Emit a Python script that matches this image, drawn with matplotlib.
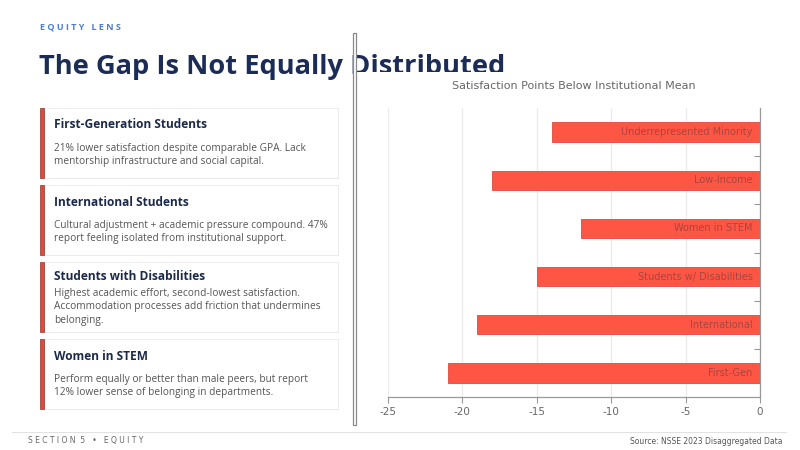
import matplotlib.pyplot as plt
from matplotlib.patches import Rectangle

# Chart data
groups = ["Underrepresented Minority", "Low-Income", "Women in STEM",
          "Students w/ Disabilities", "International", "First-Gen"]
gap_points = [-14, -18, -12, -15, -19, -21]
x_ticks = [-25, -20, -15, -10, -5, 0]

# Card text
card_titles = ["First-Generation Students", "International Students",
               "Students with Disabilities", "Women in STEM"]
card_bodies = [
    "21% lower satisfaction despite comparable GPA. Lack\nmentorship infrastructure and social capital.",
    "Cultural adjustment + academic pressure compound. 47%\nreport feeling isolated from institutional support.",
    "Highest academic effort, second-lowest satisfaction.\nAccommodation processes add friction that undermines\nbelonging.",
    "Perform equally or better than male peers, but report\n12% lower sense of belonging in departments.",
]

W, H = 800, 450
fig = plt.figure(figsize=(8, 4.5), dpi=100)
fig.patch.set_facecolor("white")


def fx(px):
    return px / W


def fy(py):
    return 1 - py / H


navy = "#1b2d57"
red = "#ff5544"

# Header
fig.text(fx(40), fy(27), "E Q U I T Y   L E N S", color="#4a7fd0", fontsize=6.5,
         fontweight="bold", family="Open Sans", va="center")
fig.text(fx(39), fy(67), "The Gap Is Not Equally Distributed", color=navy, fontsize=19.6,
         fontweight="bold", family="Open Sans", va="center", zorder=1)

# white panel clipping the title on the right
fig.patches.append(Rectangle((fx(357), fy(428)), fx(443), (428 - 72) / H,
                             transform=fig.transFigure, facecolor="white",
                             edgecolor="none", zorder=5))

# separator
fig.patches.append(Rectangle((fx(353), fy(425)), fx(3), (425 - 33) / H,
                             transform=fig.transFigure, facecolor="white",
                             edgecolor="#8a8a8a", lw=0.9, zorder=6))

# Cards
card_tops = [108, 185, 262, 339]
card_h = 70
for top, title, body in zip(card_tops, card_titles, card_bodies):
    fig.patches.append(Rectangle((fx(44), fy(top + card_h + 1)), fx(295), card_h / H,
                                 transform=fig.transFigure, facecolor="#e6e6ec",
                                 edgecolor="none", zorder=1))
    fig.patches.append(Rectangle((fx(44), fy(top + card_h)), fx(294), card_h / H,
                                 transform=fig.transFigure, facecolor="white",
                                 edgecolor="#eaeaef", lw=0.6, zorder=2))
    fig.patches.append(Rectangle((fx(40), fy(top + card_h)), fx(4), card_h / H,
                                 transform=fig.transFigure, facecolor="#e2493a",
                                 edgecolor="#8c3a30", lw=0.5, zorder=3))
    nlines = body.count("\n") + 1
    if nlines == 3:
        ty, by = top + 15, top + 26
    else:
        ty, by = top + 17, top + 35
    fig.text(fx(54), fy(ty), title, color="#1c2a4a", fontsize=8.6, fontweight="bold",
             family="Open Sans", va="center", zorder=4)
    fig.text(fx(54), fy(by), body, color="#555555", fontsize=7.25, family="Open Sans",
             va="top", linespacing=1.3, zorder=4)

# Footer
fig.add_artist(plt.Line2D([fx(12), fx(786)], [fy(432), fy(432)], color="#e2e2e2", lw=0.8))
fig.text(fx(28), fy(441), "S E C T I O N  5   \u2022   E Q U I T Y", color="#666666",
         fontsize=5.5, va="center")
fig.text(fx(783), fy(441), "Source: NSSE 2023 Disaggregated Data", color="#555555",
         fontsize=5.5, va="center", ha="right")

# Bar chart
ax = fig.add_axes([fx(388), fy(397), fx(760 - 388), (397 - 108) / H], zorder=7)
ax.set_facecolor("none")
pos = range(len(groups))
ax.barh(pos, gap_points, height=0.4, color=red, edgecolor="#e04a3c", lw=0.6, zorder=3)
for i, (g, v) in enumerate(zip(groups, gap_points)):
    ax.text(-0.5, i, g, ha="right", va="center", fontsize=7, color="#a8463e", zorder=4)

ax.set_xlim(-25, 0)
ax.set_ylim(len(groups) - 0.5, -0.5)
ax.set_xticks(x_ticks)
ax.set_xticklabels([str(t) for t in x_ticks])
ax.set_yticks([i + 0.5 for i in range(len(groups) - 1)])
ax.set_yticklabels([])
ax.yaxis.tick_right()
ax.tick_params(axis="y", direction="in", length=4, color="#999999")
ax.tick_params(axis="x", length=4, color="#999999", labelsize=7.5, labelcolor="#666666")
ax.grid(axis="x", color="#ebebeb", lw=0.9, zorder=0)
for s in ["top", "left"]:
    ax.spines[s].set_visible(False)
for s in ["bottom", "right"]:
    ax.spines[s].set_color("#999999")
    ax.spines[s].set_linewidth(0.9)
ax.set_title("Satisfaction Points Below Institutional Mean", fontsize=8,
             color="#666666", pad=14)

plt.savefig("out.png", dpi=100)
